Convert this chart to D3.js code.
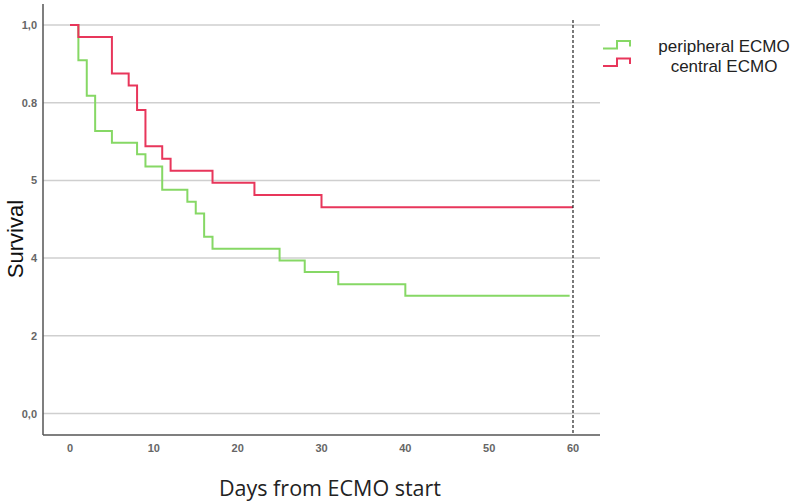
<!DOCTYPE html>
<html>
<head>
<meta charset="utf-8">
<script src="https://cdn.jsdelivr.net/npm/d3@7"></script>
<style>
  body { margin: 0; background: #fff; }
  svg { display: block; }
</style>
</head>
<body>
<div id="container"></div>
<script>
let w = 794;
let h = 502;

// days at which each curve steps down, and survival after the step
let periphDays = [0, 1, 2, 3, 5, 8, 9, 11, 14, 15, 16, 17, 25, 28, 32, 40];
let periphSurv = [1.0, 0.909, 0.818, 0.727, 0.697, 0.667, 0.636, 0.576, 0.545, 0.515, 0.455, 0.424, 0.394, 0.364, 0.333, 0.303];
let periphEnd = 59.6;

let centralDays = [0, 1, 5, 7, 8, 9, 11, 12, 17, 22, 30];
let centralSurv = [1.0, 0.969, 0.875, 0.844, 0.781, 0.688, 0.656, 0.625, 0.594, 0.5625, 0.531];
let centralEnd = 60;

let xTicks = [0, 10, 20, 30, 40, 50, 60];
let yTicks = [0, 0.2, 0.4, 0.6, 0.8, 1.0];
let yTickLabels = ["0,0", "2", "4", "5", "0.8", "1,0"];

let seriesNames = ["peripheral ECMO", "central ECMO"];
let colors = ["#86d865", "#e8365b"];

let viz = d3.select("#container").append("svg")
    .attr("width", w)
    .attr("height", h);

let x = d3.scaleLinear().domain([0, 60]).range([70, 573]);
let y = d3.scaleLinear().domain([0, 1]).range([413.5, 25]);

let plotLeft = 43, plotRight = 600, plotTop = 4, plotBottom = 435;

// gridlines
viz.selectAll(".grid").data(yTicks).enter()
  .append("line")
  .attr("class", "grid")
  .attr("x1", plotLeft)
  .attr("x2", plotRight)
  .attr("y1", d => y(d))
  .attr("y2", d => y(d))
  .attr("stroke", "#cfcfcf")
  .attr("stroke-width", 1.5);

// y tick labels
viz.selectAll(".ylab").data(yTicks).enter()
  .append("text")
  .attr("class", "ylab")
  .attr("x", 37)
  .attr("y", d => y(d) + 4)
  .attr("text-anchor", "end")
  .attr("font-family", "Liberation Sans, Arial, sans-serif")
  .attr("font-size", 11)
  .attr("font-weight", "bold")
  .attr("fill", "#666")
  .text((d, i) => yTickLabels[i]);

// x tick labels
viz.selectAll(".xlab").data(xTicks).enter()
  .append("text")
  .attr("class", "xlab")
  .attr("x", d => x(d))
  .attr("y", 452)
  .attr("text-anchor", "middle")
  .attr("font-family", "Liberation Sans, Arial, sans-serif")
  .attr("font-size", 11)
  .attr("font-weight", "bold")
  .attr("fill", "#666")
  .text(d => d);

// step curves
function stepPoints(days, surv, end){
  let pts = [];
  for (let i = 0; i < days.length; i++) {
    pts.push([days[i], surv[i]]);
  }
  pts.push([end, surv[surv.length - 1]]);
  return pts;
}

let line = d3.line()
  .x(d => x(d[0]))
  .y(d => y(d[1]))
  .curve(d3.curveStepAfter);

viz.append("path")
  .datum(stepPoints(periphDays, periphSurv, periphEnd))
  .attr("d", line)
  .attr("fill", "none")
  .attr("stroke", colors[0])
  .attr("stroke-width", 2);

viz.append("path")
  .datum(stepPoints(centralDays, centralSurv, centralEnd))
  .attr("d", line)
  .attr("fill", "none")
  .attr("stroke", colors[1])
  .attr("stroke-width", 2);

// reference line at day 60
viz.append("line")
  .attr("x1", x(60))
  .attr("x2", x(60))
  .attr("y1", 20)
  .attr("y2", plotBottom)
  .attr("stroke", "#222")
  .attr("stroke-width", 1.2)
  .attr("stroke-dasharray", "3,2");

// axes
viz.append("line")
  .attr("x1", plotLeft).attr("x2", plotLeft)
  .attr("y1", plotTop).attr("y2", plotBottom)
  .attr("stroke", "#555")
  .attr("stroke-width", 1.5);
viz.append("line")
  .attr("x1", plotLeft).attr("x2", plotRight)
  .attr("y1", plotBottom).attr("y2", plotBottom)
  .attr("stroke", "#555")
  .attr("stroke-width", 1.5);

// axis titles
viz.append("text")
  .attr("transform", "translate(23,239) rotate(-90)")
  .attr("text-anchor", "middle")
  .attr("font-family", "Liberation Sans, Arial, sans-serif")
  .attr("font-size", 22)
  .attr("fill", "#111")
  .text("Survival");

viz.append("text")
  .attr("x", 330)
  .attr("y", 496)
  .attr("text-anchor", "middle")
  .attr("font-family", "Open Sans, sans-serif")
  .attr("font-size", 21.5)
  .attr("fill", "#222")
  .text("Days from ECMO start");

// legend
let legendY = [44.5, 62];
let legendTextY = [52, 72];
let legend = viz.selectAll(".legend").data(seriesNames).enter()
  .append("g")
  .attr("class", "legend");

legend.append("path")
  .attr("transform", (d, i) => "translate(603," + legendY[i] + ")")
  .attr("d", "M0,4 H14 V-3.5 H27 V2")
  .attr("fill", "none")
  .attr("stroke", (d, i) => colors[i])
  .attr("stroke-width", 2);

legend.append("text")
  .attr("x", 724)
  .attr("y", (d, i) => legendTextY[i])
  .attr("text-anchor", "middle")
  .attr("font-family", "Liberation Sans, Arial, sans-serif")
  .attr("font-size", 17)
  .attr("fill", "#222")
  .text(d => d);
</script>
</body>
</html>
